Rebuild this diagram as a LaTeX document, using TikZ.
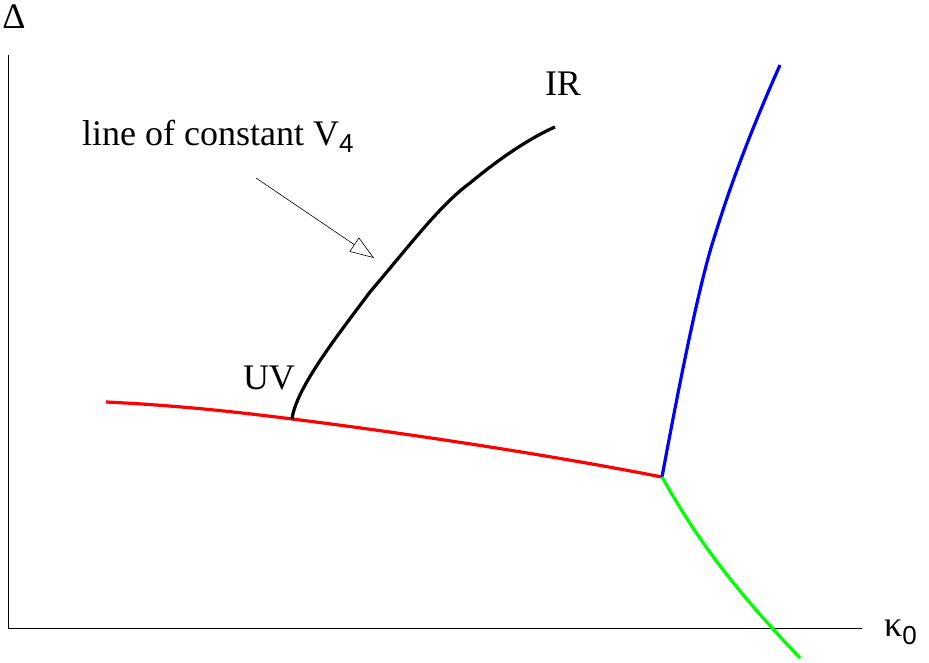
\documentclass[tikz,border=0pt]{standalone}
\usepackage{fontspec}
\setmainfont{Liberation Serif}
\newfontfamily\subsans{Liberation Sans}
\usetikzlibrary{arrows.meta}
\begin{document}
\begin{tikzpicture}[x=1pt,y=-1pt,
  curve/.style={line width=3.2pt},
  axis/.style={line width=0.8pt},
  lbl/.style={font=\fontsize{36}{40}\selectfont, inner sep=0pt},
]
\useasboundingbox (0,0) rectangle (929,663);
% axes
\coordinate (o) at (8,628);
\coordinate (ytop) at (8,55);
\coordinate (xend) at (862,628);
\draw[axis] (ytop) -- (o) -- (xend);
\node[lbl] (delta) at (14,17) {Δ};
\node[lbl,anchor=west] (kappa) at (884,632) {κ\raisebox{-8pt}{\subsans\fontsize{26}{30}\selectfont 0}};
% junction points
\coordinate (J) at (662,477);
\coordinate (UVp) at (292,419);
% red
\draw[curve, red] (106,402) .. controls (170,405) and (230,411) .. (UVp)
  .. controls (420,435) and (560,457) .. (J);
% black
\draw[curve, black] (UVp) .. controls (296,390) and (330,345) .. (370,292)
  .. controls (410,245) and (440,205) .. (470,183)
  .. controls (500,158) and (530,138) .. (555,127);
% blue
\draw[curve, blue] (J) .. controls (680,380) and (700,280) .. (715,235)
  .. controls (735,170) and (760,110) .. (780,65);
% green
\draw[curve, green] (J) .. controls (700,545) and (740,595) .. (800,658);
% labels
\node[lbl] (IR) at (563,84) {IR};
\node[lbl] (UV) at (269,378) {UV};
\node[lbl,anchor=base west] (txt) at (82,146) {line of constant V\raisebox{-7pt}{\subsans\fontsize{26}{30}\selectfont 4}};
\coordinate (a1) at (256,178);
\coordinate (a2) at (374,258);
\draw[line width=0.6pt, -{Triangle[open,length=24pt,width=17pt]}] (a1) -- (a2);
\end{tikzpicture}
\end{document}
